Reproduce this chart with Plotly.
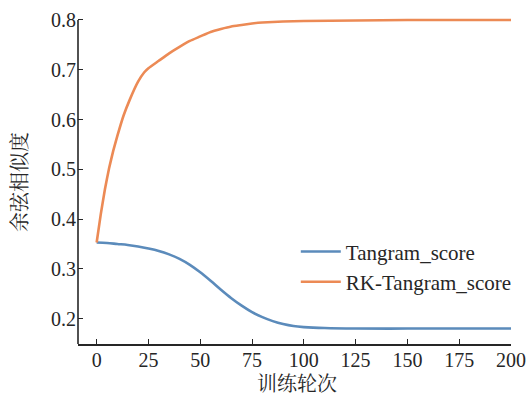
import plotly.graph_objects as go

# Training epochs and cosine similarity scores for the two methods
epochs_tangram = [0, 5, 10, 15, 20, 25, 30, 35, 40, 45, 50, 55, 60, 65, 70, 75, 80,
                  85, 90, 95, 100, 110, 125, 150, 175, 200]
tangram_score = [0.353, 0.352, 0.350, 0.348, 0.345, 0.341, 0.336, 0.329, 0.320, 0.308,
                 0.293, 0.276, 0.258, 0.241, 0.226, 0.213, 0.203, 0.195, 0.189, 0.185,
                 0.183, 0.181, 0.180, 0.180, 0.180, 0.180]

epochs_rk = [0, 2, 4, 6, 8, 10, 13, 16, 20, 23, 25, 30, 35, 40, 45, 50, 55, 60, 65,
             70, 75, 80, 90, 100, 125, 150, 175, 200]
rk_tangram_score = [0.353, 0.410, 0.460, 0.502, 0.537, 0.567, 0.608, 0.640, 0.676,
                    0.695, 0.703, 0.718, 0.733, 0.746, 0.758, 0.767, 0.776, 0.782,
                    0.787, 0.790, 0.793, 0.795, 0.797, 0.798, 0.799, 0.800, 0.800, 0.800]

x_ticks = [0, 25, 50, 75, 100, 125, 150, 175, 200]
y_ticks = [0.2, 0.3, 0.4, 0.5, 0.6, 0.7, 0.8]

x_title = "训练轮次"
y_title = "余弦相似度"

BLUE = "#5b8bbb"
ORANGE = "#ec8a55"
SERIF = "Liberation Serif"
CJK = "Noto Serif CJK SC, Noto Sans CJK SC"
INK = "#262626"

fig = go.Figure()
fig.add_trace(go.Scatter(x=epochs_tangram, y=tangram_score, mode="lines",
                         name="Tangram_score",
                         line=dict(color=BLUE, width=2.6, shape="spline", smoothing=1.0)))
fig.add_trace(go.Scatter(x=epochs_rk, y=rk_tangram_score, mode="lines",
                         name="RK-Tangram_score",
                         line=dict(color=ORANGE, width=2.6, shape="spline", smoothing=0.4)))

y_lo, y_hi = 0.149, 0.806

# left spine stops at the top tick
fig.add_shape(type="line", xref="paper", yref="y", x0=0, x1=0, y0=y_lo, y1=0.8,
              line=dict(color=INK, width=1.6))

# axis titles placed as paper-anchored text
fig.add_annotation(text=x_title, xref="paper", yref="paper", x=0.506, y=-0.119,
                   xanchor="center", yanchor="middle", showarrow=False,
                   font=dict(family=CJK, size=20, color=INK))
fig.add_annotation(text=y_title, xref="paper", yref="paper", x=-0.136, y=0.496,
                   xanchor="center", yanchor="middle", showarrow=False, textangle=-90,
                   font=dict(family=CJK, size=20, color=INK))

fig.update_layout(
    width=527, height=397,
    margin=dict(l=78, r=16, t=17, b=53, autoexpand=False),
    paper_bgcolor="white", plot_bgcolor="white",
    font=dict(family=SERIF, color=INK),
    showlegend=True,
    legend=dict(x=0.503, y=0.236, xanchor="left", yanchor="middle",
                font=dict(family=SERIF, size=21, color=INK),
                bgcolor="rgba(0,0,0,0)", tracegroupgap=0, itemwidth=40),
    xaxis=dict(range=[-9, 200], tickvals=x_ticks, ticks="inside", ticklen=5,
               tickwidth=1.4, tickcolor=INK, showline=True, linecolor=INK, linewidth=1.6,
               showgrid=False, zeroline=False, automargin=False, ticklabelstandoff=-3,
               tickfont=dict(family=SERIF, size=20, color=INK)),
    yaxis=dict(range=[y_lo, y_hi], tickvals=y_ticks, tickformat=".1f", ticks="inside",
               ticklen=5, tickwidth=1.4, tickcolor=INK, showline=False,
               showgrid=False, zeroline=False, automargin=False, ticklabelstandoff=1,
               tickfont=dict(family=SERIF, size=20, color=INK)),
)

fig.write_html("out.html")
